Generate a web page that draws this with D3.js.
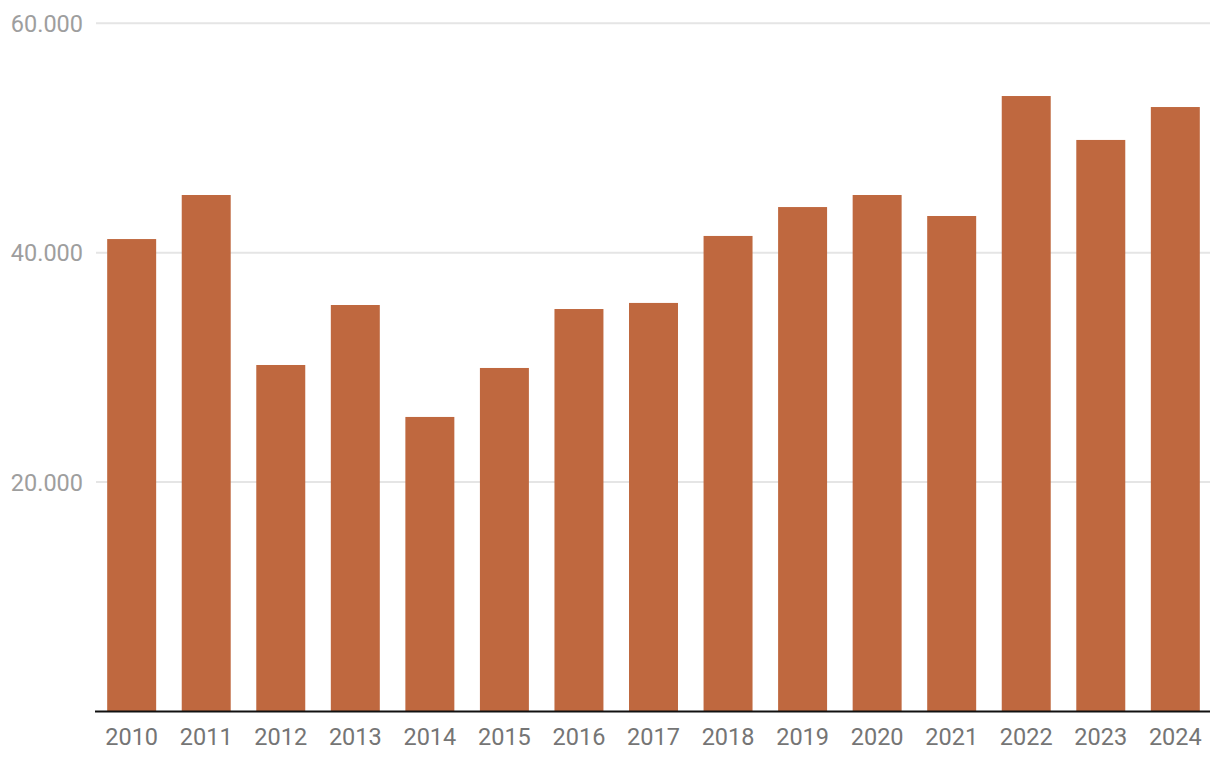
<!DOCTYPE html>
<html>
<head>
<meta charset="utf-8">
<script src="https://cdn.jsdelivr.net/npm/d3@7"></script>
<style>
  html, body { margin: 0; padding: 0; background: #fff; }
  svg { display: block; font-family: Roboto, "Noto Sans", sans-serif; }
</style>
</head>
<body>
<svg id="chart" width="1220" height="768"></svg>
<script>
const years = ["2010","2011","2012","2013","2014","2015","2016","2017","2018","2019","2020","2021","2022","2023","2024"];
const values = [41190, 45030, 30210, 35440, 25680, 29950, 35090, 35620, 41460, 43980, 45030, 43200, 53660, 49830, 52700];
const yTicks = [20000, 40000, 60000];
const yTickLabels = ["20.000", "40.000", "60.000"];

(function () {
  const svg = d3.select("#chart");
  const mLeft = 96, mRight = 1211, mTop = 23.3, mBottom = 711.5;

  const x = d3.scaleBand().domain(years).range([mLeft, mRight]).paddingInner(0.343).paddingOuter(0.15);
  const y = d3.scaleLinear().domain([0, 60000]).range([mBottom, mTop]);

  // gridlines
  svg.append("g").selectAll("line").data(yTicks).join("line")
    .attr("x1", mLeft).attr("x2", 1210)
    .attr("y1", d => y(d)).attr("y2", d => y(d))
    .attr("stroke", "#e5e5e5").attr("stroke-width", 2);

  // y labels
  svg.append("g").selectAll("text").data(yTicks).join("text")
    .attr("x", 83).attr("y", d => y(d))
    .attr("dy", "0.36em")
    .attr("text-anchor", "end")
    .attr("fill", "#9e9e9e")
    .attr("font-size", 23.5)
    .text((d, i) => yTickLabels[i]);

  // bars
  svg.append("g").selectAll("rect").data(years).join("rect")
    .attr("x", d => x(d))
    .attr("width", x.bandwidth())
    .attr("y", (d, i) => y(values[i]))
    .attr("height", (d, i) => y(0) - y(values[i]))
    .attr("fill", "#bf683f");

  // x axis
  const xAxis = svg.append("g").attr("transform", `translate(0,${mBottom})`)
    .call(d3.axisBottom(x).tickSize(0).tickPadding(17));
  xAxis.select(".domain").attr("d", `M${mLeft - 1},0H${1210}`).attr("stroke", "#111").attr("stroke-width", 2);
  xAxis.selectAll("text").attr("font-size", 23.5).attr("fill", "#757575").attr("font-family", "Roboto, sans-serif");
})();
</script>
</body>
</html>
